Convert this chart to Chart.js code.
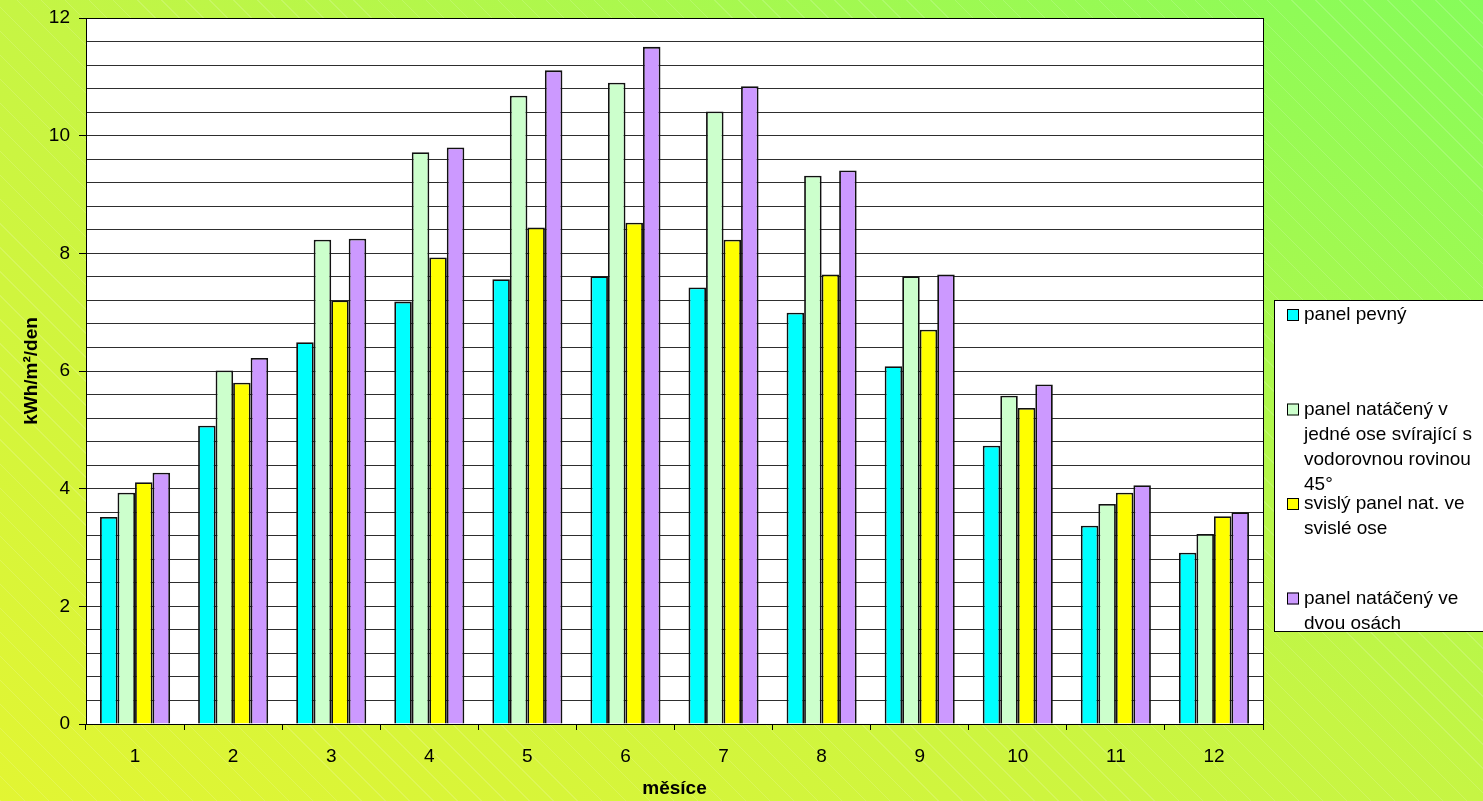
<!DOCTYPE html>
<html>
<head>
<meta charset="utf-8">
<script src="https://cdn.jsdelivr.net/npm/chart.js@4.4.1/dist/chart.umd.min.js"></script>
<style>
  html, body { margin: 0; padding: 0; }
  body {
    width: 1483px; height: 801px; overflow: hidden;
    background:
      repeating-linear-gradient(45deg, rgba(255,255,255,0.15) 0 1px, rgba(255,255,255,0) 1px 17px),
      linear-gradient(to top right, #e2f533 0%, #c6f544 50%, #86fc5a 100%);
  }
  #wrap { position: absolute; left: 0; top: 0; width: 1483px; height: 801px; }
</style>
</head>
<body>
<div id="wrap"><canvas id="c" width="1483" height="801"></canvas></div>
<script>
// Months on the category axis
const months = ['1', '2', '3', '4', '5', '6', '7', '8', '9', '10', '11', '12'];

// Daily irradiation [kWh/m²/den] for each panel arrangement
const fixedPanel    = [3.52, 5.07, 6.49, 7.18, 7.56, 7.61, 7.42, 6.99, 6.08, 4.73, 3.37, 2.91];
const oneAxis45     = [3.93, 6.01, 8.23, 9.72, 10.68, 10.90, 10.41, 9.32, 7.61, 5.58, 3.74, 3.23];
const verticalAxis  = [4.11, 5.80, 7.20, 7.93, 8.44, 8.52, 8.23, 7.64, 6.70, 5.37, 3.93, 3.53];
const twoAxes       = [4.27, 6.22, 8.25, 9.80, 11.11, 11.51, 10.84, 9.41, 7.64, 5.77, 4.06, 3.60];

// Legend text, one entry per line
const seriesNames = [
  ['panel pevný'],
  ['panel natáčený v', 'jedné ose svírající s', 'vodorovnou rovinou', '45°'],
  ['svislý panel nat. ve', 'svislé ose'],
  ['panel natáčený ve', 'dvou osách']
];
const seriesColors = ['#00FFFF', '#CCFFCC', '#FFFF00', '#CC99FF'];
const seriesValues = [fixedPanel, oneAxis45, verticalAxis, twoAxes];

const yTitle = 'kWh/m²/den';
const xTitle = 'měsíce';

const FONT = "Arial, 'Liberation Sans', sans-serif";

// White plot area with a black frame
const plotFrame = {
  id: 'plotFrame',
  beforeDraw(chart) {
    const a = chart.chartArea, ctx = chart.ctx;
    ctx.save();
    ctx.fillStyle = '#ffffff';
    ctx.fillRect(a.left, a.top, a.right - a.left, a.bottom - a.top);
    ctx.restore();
  },
  afterDraw(chart) {
    const a = chart.chartArea, ctx = chart.ctx;
    ctx.save();
    ctx.strokeStyle = '#000';
    ctx.lineWidth = 1;
    ctx.strokeRect(Math.round(a.left) + 0.5, Math.round(a.top) + 0.5,
                   Math.round(a.right - a.left), Math.round(a.bottom - a.top));
    ctx.restore();
  }
};

// Boxed legend on the right with wrapped entries
const sideLegend = {
  id: 'sideLegend',
  afterDraw(chart) {
    const ctx = chart.ctx;
    const box = { x: 1274, y: 300, w: 230, h: 331 };
    ctx.save();
    ctx.fillStyle = '#fff';
    ctx.fillRect(box.x, box.y, box.w, box.h);
    ctx.strokeStyle = '#000';
    ctx.lineWidth = 1;
    ctx.strokeRect(box.x + 0.5, box.y + 0.5, box.w, box.h);
    const entryGap = 94.5, lineH = 25;
    ctx.font = '19px ' + FONT;
    ctx.textBaseline = 'middle';
    ctx.textAlign = 'left';
    chart.data.datasets.forEach((ds, i) => {
      const cy = 315 + i * entryGap;
      ctx.fillStyle = ds.backgroundColor;
      ctx.fillRect(1287, cy - 6, 12, 12);
      ctx.strokeStyle = '#000';
      ctx.strokeRect(1287.5, cy - 5.5, 11, 11);
      ctx.fillStyle = '#000';
      seriesNames[i].forEach((line, k) => {
        ctx.fillText(line, 1304, cy + k * lineH);
      });
    });
    ctx.restore();
  }
};

const isMajor = v => Math.abs(v / 2 - Math.round(v / 2)) < 1e-6;

new Chart(document.getElementById('c'), {
  type: 'bar',
  data: {
    labels: months,
    datasets: seriesValues.map((vals, i) => ({
      label: seriesNames[i].join(' '),
      data: vals,
      backgroundColor: seriesColors[i],
      borderColor: '#111',
      borderWidth: 1.8,
      categoryPercentage: 0.714,
      barPercentage: 1.0
    }))
  },
  options: {
    responsive: false,
    animation: false,
    layout: { padding: { left: 0, top: 18, right: 220, bottom: 0 } },
    plugins: {
      legend: { display: false },
      tooltip: { enabled: false }
    },
    scales: {
      x: {
        afterFit(s) { s.height = 77; },
        grid: {
          offset: true,
          drawOnChartArea: false,
          drawTicks: true,
          tickLength: 6,
          color: '#000'
        },
        border: { color: '#000', width: 1 },
        ticks: {
          color: '#000',
          font: { family: FONT, size: 19 },
          padding: 15
        },
        title: {
          display: true,
          text: xTitle,
          color: '#000',
          font: { family: FONT, size: 19, weight: 'bold' },
          padding: { top: 0, bottom: 1 }
        }
      },
      y: {
        min: 0,
        max: 12,
        afterFit(s) { s.width = 86; s.paddingTop = 0; s.paddingBottom = 0; },
        ticks: {
          stepSize: 0.4,
          autoSkip: false,
          color: '#000',
          font: { family: FONT, size: 19 },
          padding: 9,
          callback: v => (isMajor(v) ? String(Math.round(v)) : '')
        },
        grid: {
          color: '#2e2e2e',
          lineWidth: 1,
          drawTicks: true,
          tickLength: 7,
          tickColor: ctx => (ctx.tick && isMajor(ctx.tick.value) ? '#000' : 'rgba(0,0,0,0)')
        },
        border: { color: '#000', width: 1 },
        title: {
          display: true,
          text: yTitle,
          color: '#000',
          font: { family: FONT, size: 19, weight: 'bold' },
          padding: { top: 20, bottom: 0 }
        }
      }
    }
  },
  plugins: [plotFrame, sideLegend]
});
</script>
</body>
</html>
